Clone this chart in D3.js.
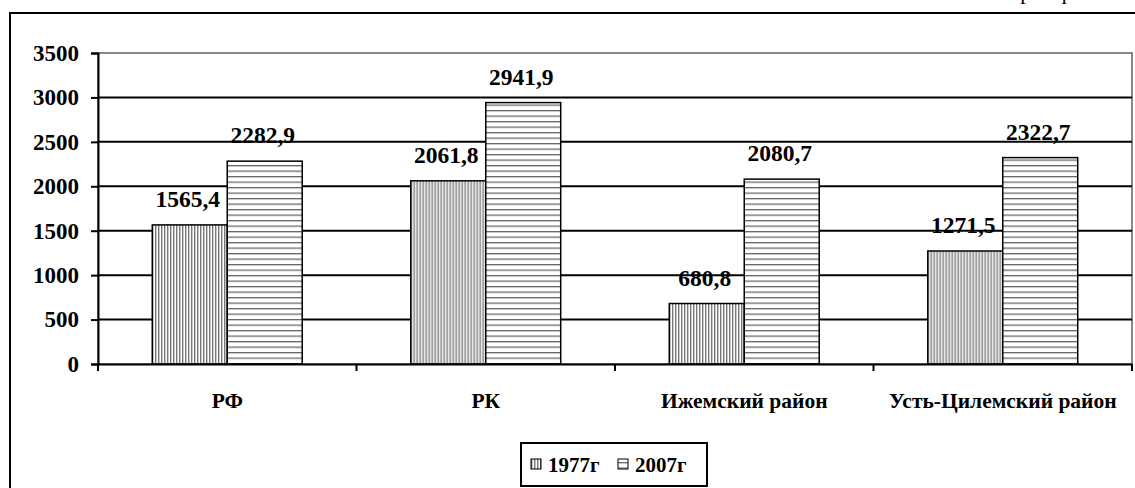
<!DOCTYPE html>
<html>
<head>
<meta charset="utf-8">
<script src="https://cdn.jsdelivr.net/npm/d3@7/dist/d3.min.js"></script>
<style>
html,body{margin:0;padding:0;background:#fff;}
svg{display:block;}
text{font-family:"Times New Roman","Liberation Serif",serif;font-weight:bold;fill:#000;}
</style>
</head>
<body>
<svg id="chart" width="1135" height="488"></svg>
<script>
const categories = ["РФ", "РК", "Ижемский район", "Усть-Цилемский район"];
const seriesNames = ["1977г", "2007г"];
const values1977 = [1565.4, 2061.8, 680.8, 1271.5];
const values2007 = [2282.9, 2941.9, 2080.7, 2322.7];
const valueLabels1977 = ["1565,4", "2061,8", "680,8", "1271,5"];
const valueLabels2007 = ["2282,9", "2941,9", "2080,7", "2322,7"];
const yTicks = [0, 500, 1000, 1500, 2000, 2500, 3000, 3500];

const svg = d3.select("#chart");
const W = 1135, H = 488;
const plot = {left: 98, right: 1132, top: 53, bottom: 364};

// defs: patterns
const defs = svg.append("defs");
const pv = defs.append("pattern").attr("id","pv").attr("patternUnits","userSpaceOnUse")
  .attr("width",3).attr("height",3);
pv.append("rect").attr("width",3).attr("height",3).attr("fill","#fff");
pv.append("rect").attr("x",0).attr("width",1.4).attr("height",3).attr("fill","#777");
const ph = defs.append("pattern").attr("id","ph").attr("patternUnits","userSpaceOnUse")
  .attr("width",5).attr("height",5.5);
ph.append("rect").attr("width",5).attr("height",5.5).attr("fill","#fff");
ph.append("rect").attr("y",0).attr("width",5).attr("height",1.3).attr("fill","#666");
const patterns = ["url(#pv)", "url(#ph)"];

// outer frame (partial)
svg.append("line").attr("x1",10).attr("x2",W).attr("y1",13).attr("y2",13)
  .attr("stroke","#000").attr("stroke-width",2);
svg.append("line").attr("x1",10).attr("x2",10).attr("y1",12).attr("y2",H)
  .attr("stroke","#000").attr("stroke-width",2);

// cut-off caption at top right (only its descenders show, as in the reference)
svg.append("text").attr("x",1001).attr("y",-1).attr("font-size",22)
  .style("font-weight","normal").attr("letter-spacing",8).text("График");

const x0 = d3.scaleBand().domain(categories).range([plot.left, plot.right]).padding(0);
const bw = x0.bandwidth();
const x1 = d3.scaleBand().domain(seriesNames).range([bw*0.21, bw*0.79]).padding(0);
const y = d3.scaleLinear().domain([0, 3500]).range([plot.bottom, plot.top]);

// plot area border (gray)
svg.append("rect").attr("x",plot.left).attr("y",plot.top)
  .attr("width",plot.right-plot.left).attr("height",plot.bottom-plot.top)
  .attr("fill","none").attr("stroke","#888").attr("stroke-width",2);

// gridlines
svg.append("g").selectAll("line").data(yTicks.filter(d=>d>0 && d<3500)).join("line")
  .attr("x1",plot.left).attr("x2",plot.right)
  .attr("y1",d=>y(d)).attr("y2",d=>y(d))
  .attr("stroke","#000").attr("stroke-width",2);

// bars
const data = categories.map((c,i)=>({cat:c, vals:[values1977[i], values2007[i]], labels:[valueLabels1977[i], valueLabels2007[i]]}));
const groups = svg.append("g").selectAll("g").data(data).join("g")
  .attr("transform", d=>`translate(${x0(d.cat)},0)`);
groups.selectAll("rect").data(d=>d.vals.map((v,j)=>({s:seriesNames[j], v, j}))).join("rect")
  .attr("x",d=>x1(d.s)).attr("width",x1.bandwidth())
  .attr("y",d=>y(d.v)).attr("height",d=>y(0)-y(d.v))
  .attr("fill",d=>patterns[d.j]).attr("stroke","#000").attr("stroke-width",1.5);
groups.selectAll("text").data(d=>d.vals.map((v,j)=>({s:seriesNames[j], v, l:d.labels[j]}))).join("text")
  .attr("x",d=>x1(d.s)+x1.bandwidth()/2 - 2).attr("y",d=>y(d.v)-18)
  .attr("text-anchor","middle").attr("font-size",23.5).text(d=>d.l);

// y axis
const yAxis = d3.axisLeft(y).tickValues(yTicks).tickSize(7).tickPadding(12).tickFormat(d3.format("d"));
const ya = svg.append("g").attr("transform",`translate(${plot.left},0)`).call(yAxis);
ya.select(".domain").attr("stroke","#000").attr("stroke-width",2);
ya.selectAll(".tick line").attr("stroke","#000").attr("stroke-width",2);
ya.selectAll(".tick text").attr("font-size",23).attr("font-family",null).attr("fill","#000");

// x axis
const xAxis = d3.axisBottom(x0).tickSize(0).tickPadding(29);
const xa = svg.append("g").attr("transform",`translate(0,${plot.bottom})`).call(xAxis);
xa.select(".domain").attr("stroke","#000").attr("stroke-width",2);
xa.selectAll(".tick text").attr("font-size",21.5).attr("font-family",null).attr("fill","#000");
// category boundary ticks
const bounds = categories.map(c=>x0(c)).concat([plot.right]);
svg.append("g").selectAll("line").data(bounds).join("line")
  .attr("x1",d=>d).attr("x2",d=>d).attr("y1",plot.bottom).attr("y2",plot.bottom+7)
  .attr("stroke","#000").attr("stroke-width",2);

// legend
const lg = svg.append("g");
lg.append("rect").attr("x",521).attr("y",443).attr("width",186).attr("height",43)
  .attr("fill","#fff").attr("stroke","#000").attr("stroke-width",2);
const legX = [531, 618];
seriesNames.forEach((s,i)=>{
  lg.append("rect").attr("x",legX[i]).attr("y",459).attr("width",10).attr("height",10)
    .attr("fill",patterns[i]).attr("stroke","#000").attr("stroke-width",1);
  lg.append("text").attr("x",legX[i]+17).attr("y",472).attr("font-size",21).text(s);
});
</script>
</body>
</html>
